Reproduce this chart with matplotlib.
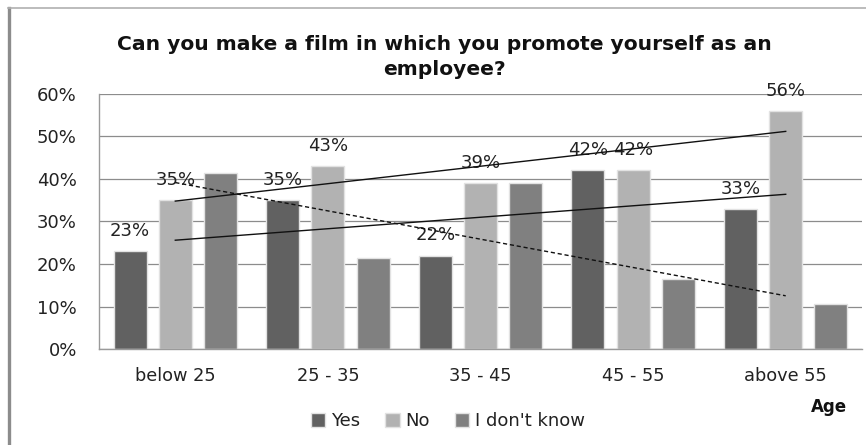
import numpy as np
import matplotlib
matplotlib.use("Agg")
import matplotlib.pyplot as plt
from matplotlib.lines import Line2D
from matplotlib.patches import Patch

age_groups = ["below 25", "25 - 35", "35 - 45", "45 - 55", "above 55"]
yes_share = [0.23, 0.35, 0.22, 0.42, 0.33]
no_share = [0.35, 0.43, 0.39, 0.42, 0.56]
dont_know_share = [0.415, 0.215, 0.39, 0.165, 0.107]

series = [
    ("Yes", yes_share, "#616161", True),
    ("No", no_share, "#b2b2b2", True),
    ("I don't know", dont_know_share, "#808080", False),
]

plt.rcParams["font.family"] = ["DejaVu Sans"]

fig = plt.figure(figsize=(8.66, 4.45), dpi=100)
ax = fig.add_axes([0.1143, 0.2157, 0.8811, 0.5731])

x = np.arange(len(age_groups))
step = 0.296
width = 0.217

for i, (name, vals, color, labelled) in enumerate(series):
    pos = x + (i - 1) * step
    ax.bar(pos, vals, width, color=color, edgecolor="#e2e2e2",
           linewidth=1.0, zorder=2)
    if labelled:
        for px, v in zip(pos, vals):
            ax.annotate(f"{v * 100:.0f}%", (px, v), xytext=(0, 14.5),
                        textcoords="offset points", ha="center", va="center",
                        fontsize=13, color="#222222", zorder=3)

# linear trend lines per series
styles = {"Yes": "-", "No": "-", "I don't know": (0, (3, 2))}
for name, vals, color, _ in series:
    k, b = np.polyfit(x, vals, 1)
    ax.plot(x, k * x + b, color="#111111", lw=1.0, linestyle=styles[name],
            zorder=4)

ax.set_xlim(-0.5, len(age_groups) - 0.5)
ax.set_ylim(0, 0.6)
ticks = np.arange(0, 0.61, 0.1)
ax.set_yticks(ticks)
ax.set_yticklabels([f"{t * 100:.0f}%" for t in ticks])
ax.set_xticks(x)
ax.set_xticklabels(age_groups)
ax.tick_params(axis="y", length=0, pad=16, labelsize=13, colors="#222222")
ax.tick_params(axis="x", length=0, pad=13, labelsize=12.8, colors="#222222")
ax.yaxis.grid(True, color="#8c8c8c", lw=0.9, zorder=1)
ax.set_axisbelow(True)
for side in ["top", "right"]:
    ax.spines[side].set_visible(False)
for side in ["left", "bottom"]:
    ax.spines[side].set_color("#9a9a9a")
    ax.spines[side].set_linewidth(1.0)

fig.text(0.513, 0.872,
         "Can you make a film in which you promote yourself as an\nemployee?",
         ha="center", va="center", fontsize=14.6, fontweight="bold",
         linespacing=1.35, color="#111111")

fig.text(0.978, 0.085, "Age", ha="right", va="center", fontsize=12,
         fontweight="bold", color="#111111")

handles = [Patch(facecolor=c, edgecolor="#e2e2e2", label=n)
           for n, _, c, _ in series]
fig.legend(handles=handles, loc="center", bbox_to_anchor=(0.517, 0.054),
           ncol=3, frameon=False, fontsize=13, handlelength=0.8,
           handleheight=0.8, handletextpad=0.3, columnspacing=1.4,
           labelcolor="#222222")

# chart frame edges
fig.add_artist(Line2D([0.0108, 0.0108], [0.0, 0.982], color="#8c8c8c",
                      lw=2.4, transform=fig.transFigure))
fig.add_artist(Line2D([0.0095, 1.0], [0.982, 0.982], color="#b0b0b0",
                      lw=1.2, transform=fig.transFigure))

fig.savefig("out.png", dpi=100)
